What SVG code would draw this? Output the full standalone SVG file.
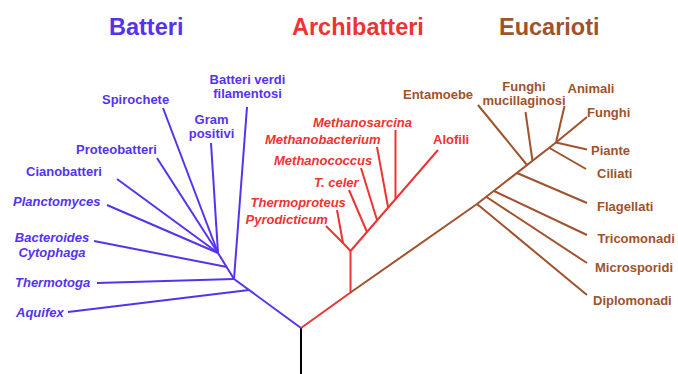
<svg xmlns="http://www.w3.org/2000/svg" width="678" height="374" viewBox="0 0 678 374">
<style>
text{font-family:"Liberation Sans",Arial,sans-serif;font-weight:bold;font-size:13px}
.h{font-size:23.5px}
.it{font-style:italic}
.m{text-anchor:middle}
.b{fill:#5533ee}
.r{fill:#ee3333}
.n{fill:#a0522d}
.lb,.lr,.ln,.lk{fill:none;stroke-width:2;stroke-linecap:butt;stroke-linejoin:round}
.lb{stroke:#5533ee}
.lr{stroke:#ee3333}
.ln{stroke:#a0522d}
.lk{stroke:#000000}
</style>
<rect width="678" height="374" fill="#ffffff"/>
<g id="headers">
<text class="h b" x="109" y="35">Batteri</text>
<text class="h r" x="292" y="35">Archibatteri</text>
<text class="h n" x="499" y="35">Eucarioti</text>
</g>
<g id="connectors">
<line class="lk" x1="301" y1="328" x2="301" y2="374"/>
<path class="lb" d="M301,328 L234,279 L218,253"/>
<line class="lb" x1="249" y1="290" x2="68" y2="312"/>
<line class="lb" x1="234" y1="279" x2="97" y2="283"/>
<line class="lb" x1="234" y1="279" x2="247" y2="107"/>
<line class="lb" x1="227" y1="267" x2="94" y2="241"/>
<line class="lb" x1="218" y1="253" x2="107" y2="205"/>
<line class="lb" x1="218" y1="253" x2="117" y2="179"/>
<line class="lb" x1="218" y1="253" x2="157" y2="158"/>
<line class="lb" x1="218" y1="253" x2="163" y2="108"/>
<line class="lb" x1="218" y1="253" x2="211" y2="143"/>
<path class="lr" d="M301,328 L350.5,292.5 L350.5,251 L438,150"/>
<path class="lr" d="M350.5,251 L343,243 L326,226"/>
<line class="lr" x1="343" y1="243" x2="337" y2="210"/>
<line class="lr" x1="367" y1="232" x2="349" y2="190"/>
<line class="lr" x1="377" y1="220" x2="361" y2="168"/>
<line class="lr" x1="388" y1="207" x2="377" y2="147"/>
<line class="lr" x1="395.5" y1="199" x2="395.5" y2="130"/>
<path class="ln" d="M350.5,292.5 L477,204 L556,142.5"/>
<line class="ln" x1="477" y1="204" x2="587" y2="295"/>
<line class="ln" x1="486.5" y1="197" x2="587" y2="263"/>
<line class="ln" x1="494" y1="191" x2="587" y2="235"/>
<line class="ln" x1="517" y1="173" x2="587" y2="203"/>
<line class="ln" x1="527" y1="165" x2="478" y2="105"/>
<line class="ln" x1="532.5" y1="161" x2="525.5" y2="112"/>
<line class="ln" x1="549.5" y1="148" x2="586" y2="169"/>
<line class="ln" x1="556" y1="142.5" x2="564.5" y2="106"/>
<line class="ln" x1="556" y1="142.5" x2="587" y2="117"/>
<line class="ln" x1="556" y1="142.5" x2="587" y2="149.5"/>
</g>
<g id="batteri-verdi-filamentosi"><text class="b m" x="247.5" y="84">Batteri verdi</text><text class="b m" x="247.5" y="98">filamentosi</text></g>
<g id="spirochete"><text class="b" x="102" y="104">Spirochete</text></g>
<g id="gram-positivi"><text class="b m" x="211.5" y="124">Gram</text><text class="b m" x="211.5" y="138">positivi</text></g>
<g id="proteobatteri"><text class="b" x="76" y="154">Proteobatteri</text></g>
<g id="cianobatteri"><text class="b" x="26" y="176">Cianobatteri</text></g>
<g id="planctomyces"><text class="b it" x="13" y="205.5">Planctomyces</text></g>
<g id="bacteroides-cytophaga"><text class="b it m" x="52" y="241.5">Bacteroides</text><text class="b it m" x="52" y="256.5">Cytophaga</text></g>
<g id="thermotoga"><text class="b it" x="15" y="287">Thermotoga</text></g>
<g id="aquifex"><text class="b it" x="16" y="317">Aquifex</text></g>
<g id="methanosarcina"><text class="r it" x="313" y="126.5">Methanosarcina</text></g>
<g id="methanobacterium"><text class="r it" x="265" y="144">Methanobacterium</text></g>
<g id="methanococcus"><text class="r it" x="274" y="165">Methanococcus</text></g>
<g id="t-celer"><text class="r it" x="314" y="186.5">T. celer</text></g>
<g id="thermoproteus"><text class="r it" x="250.5" y="206.5">Thermoproteus</text></g>
<g id="pyrodicticum"><text class="r it" x="245.5" y="224">Pyrodicticum</text></g>
<g id="alofili"><text class="r" x="433" y="143.5">Alofili</text></g>
<g id="entamoebe"><text class="n" x="403" y="98.5">Entamoebe</text></g>
<g id="funghi-mucillaginosi"><text class="n m" x="524" y="90.5">Funghi</text><text class="n m" x="524" y="105">mucillaginosi</text></g>
<g id="animali"><text class="n" x="567.5" y="92.5">Animali</text></g>
<g id="funghi"><text class="n" x="587" y="116.5">Funghi</text></g>
<g id="piante"><text class="n" x="591" y="154.5">Piante</text></g>
<g id="ciliati"><text class="n" x="597" y="177.5">Ciliati</text></g>
<g id="flagellati"><text class="n" x="597" y="210.5">Flagellati</text></g>
<g id="tricomonadi"><text class="n" x="597.5" y="242.5">Tricomonadi</text></g>
<g id="microsporidi"><text class="n" x="595" y="271.5">Microsporidi</text></g>
<g id="diplomonadi"><text class="n" x="593" y="305">Diplomonadi</text></g>
</svg>
